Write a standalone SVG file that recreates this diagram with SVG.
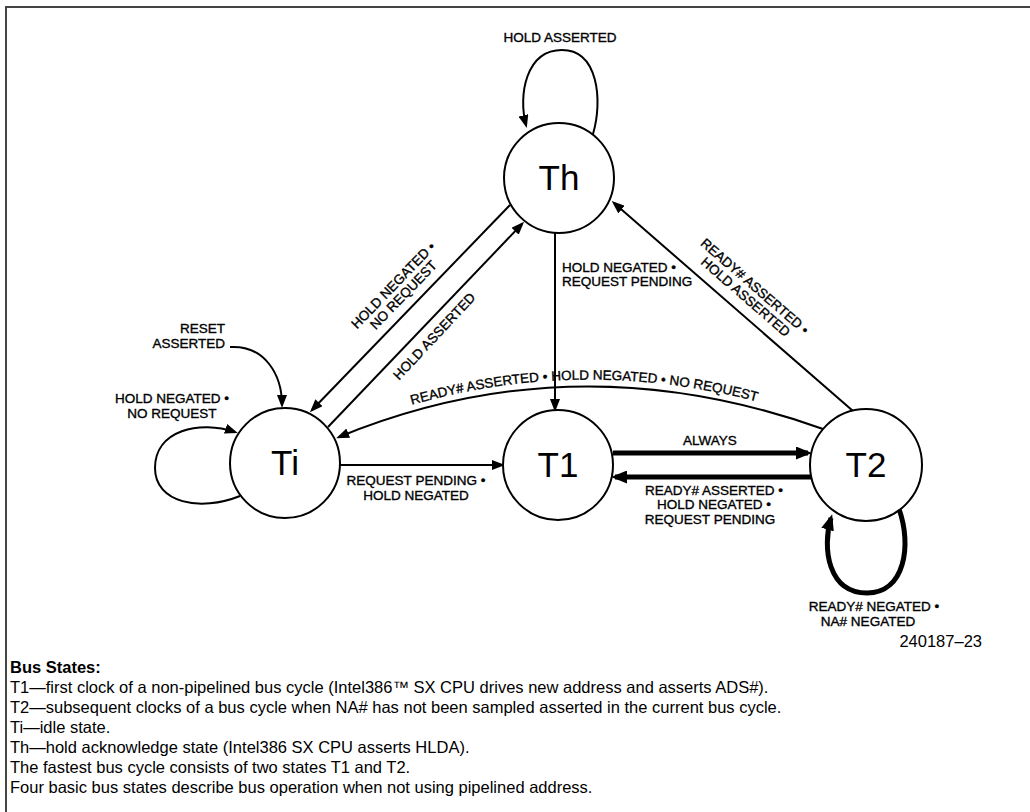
<svg xmlns="http://www.w3.org/2000/svg" width="1030" height="812" viewBox="0 0 1030 812">
<style>
.st{fill:#fff;stroke:#000;stroke-width:2}
.sn{font-family:"Liberation Sans",Arial,sans-serif;font-size:35px;fill:#000;text-anchor:middle}
.lb{font-family:"Liberation Sans",Arial,sans-serif;font-size:13.5px;fill:#000;stroke:#000;stroke-width:0.35}
.c{text-anchor:middle}
.ln{fill:none;stroke:#000;stroke-width:2;marker-end:url(#ah)}
.tk{fill:none;stroke:#000;stroke-width:5;marker-end:url(#ahk)}
.bt{font-family:"Liberation Sans",Arial,sans-serif;font-size:16.5px;fill:#000}
</style>
<defs>
<marker id="ah" markerUnits="userSpaceOnUse" markerWidth="13" markerHeight="10" refX="10" refY="5" orient="auto" viewBox="0 0 13 10">
<path d="M0,0 L13,5 L0,10 z" fill="#000"/>
</marker>
<marker id="ahk" markerUnits="userSpaceOnUse" markerWidth="16" markerHeight="13" refX="12" refY="6.5" orient="auto" viewBox="0 0 16 13">
<path d="M0,0 L16,6.5 L0,13 z" fill="#000"/>
</marker>
<path id="arcText" d="M 337,431 Q 575,333 823,422"/>
</defs>
<rect width="1030" height="812" fill="#fff"/>
<g id="frame" fill="none" stroke="#444" stroke-width="2">
<path d="M6,812 L6,7 L1030,7"/>
</g>
<g id="connectors">
<path class="ln" d="M 593,134 C 603,100 598,50 562,50 C 526,50 518,95 526,125"/>
<path class="ln" d="M 510,205 L 312,410"/>
<path class="ln" d="M 328,427 L 522,224"/>
<path class="ln" d="M 555,233 L 555,409"/>
<path class="ln" d="M 853,411 L 614,203"/>
<path class="ln" d="M 823,429 Q 575,340 339,437"/>
<path class="ln" d="M 240,496 C 200,512 155,503 155,468 C 155,430 200,420 235,432"/>
<path class="ln" d="M 230,347 C 265,345 282,375 282,405"/>
<path class="ln" d="M 340,465 L 502,465"/>
<path class="tk" d="M 613,453 L 808,453"/>
<path class="tk" d="M 811,477 L 615,477"/>
<path class="tk" d="M 899,509 C 912,545 905,593 867,593 C 828,593 822,548 831,518"/>
</g>
<g id="labels">
<text class="lb c" x="560" y="42">HOLD ASSERTED</text>
<text class="lb" x="562" y="272">HOLD NEGATED •</text>
<text class="lb" x="562" y="286">REQUEST PENDING</text>
<g transform="translate(393,285) rotate(-46)">
<text class="lb c" x="0" y="5">HOLD NEGATED •</text>
<text class="lb c" x="0" y="19">NO REQUEST</text>
</g>
<g transform="translate(434,336) rotate(-47)">
<text class="lb c" x="0" y="5">HOLD ASSERTED</text>
</g>
<g transform="translate(755,286) rotate(41)">
<text class="lb c" x="0" y="5">READY# ASSERTED •</text>
<text class="lb c" x="0" y="19">HOLD ASSERTED</text>
</g>
<text class="lb c"><textPath href="#arcText" startOffset="51%">READY# ASSERTED • HOLD NEGATED • NO REQUEST</textPath></text>
<text class="lb" x="225" y="333" text-anchor="end">RESET</text>
<text class="lb" x="225" y="348" text-anchor="end">ASSERTED</text>
<text class="lb c" x="172" y="403">HOLD NEGATED •</text>
<text class="lb c" x="172" y="418">NO REQUEST</text>
<text class="lb c" x="416" y="485">REQUEST PENDING •</text>
<text class="lb c" x="416" y="500">HOLD NEGATED</text>
<text class="lb c" x="710" y="445">ALWAYS</text>
<text class="lb c" x="714" y="495">READY# ASSERTED •</text>
<text class="lb c" x="714" y="509">HOLD NEGATED •</text>
<text class="lb c" x="710" y="524">REQUEST PENDING</text>
<text class="lb c" x="874" y="611">READY# NEGATED •</text>
<text class="lb c" x="868" y="626">NA# NEGATED</text>
</g>
<g id="node-Th"><circle class="st" cx="559" cy="178" r="55"/><text class="sn" x="559" y="190">Th</text></g>
<g id="node-Ti"><circle class="st" cx="285" cy="463" r="55"/><text class="sn" x="285" y="475">Ti</text></g>
<g id="node-T1"><circle class="st" cx="558" cy="465" r="55"/><text class="sn" x="558" y="477">T1</text></g>
<g id="node-T2"><circle class="st" cx="866" cy="465" r="56"/><text class="sn" x="866" y="477">T2</text></g>
<g id="caption">
<text class="bt" x="982" y="647" text-anchor="end" font-size="13">240187–23</text>
<text class="bt" x="10" y="673" font-weight="bold">Bus States:</text>
<text class="bt" x="10" y="693">T1—first clock of a non-pipelined bus cycle (Intel386™ SX CPU drives new address and asserts ADS#).</text>
<text class="bt" x="10" y="713">T2—subsequent clocks of a bus cycle when NA# has not been sampled asserted in the current bus cycle.</text>
<text class="bt" x="10" y="733">Ti—idle state.</text>
<text class="bt" x="10" y="753">Th—hold acknowledge state (Intel386 SX CPU asserts HLDA).</text>
<text class="bt" x="10" y="773">The fastest bus cycle consists of two states T1 and T2.</text>
<text class="bt" x="10" y="793">Four basic bus states describe bus operation when not using pipelined address.</text>
</g>
</svg>
